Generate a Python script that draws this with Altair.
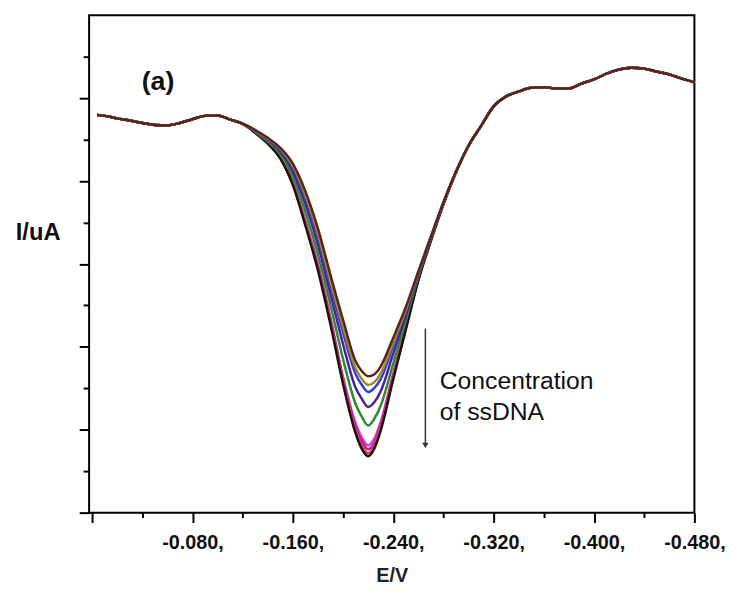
import altair as alt
import pandas as pd

# shared flanks (all curves coincide here)
E_left = [-0.004, -0.01, -0.02, -0.03, -0.04, -0.05, -0.06, -0.07, -0.08, -0.09, -0.10, -0.11, -0.12]
I_left = [9.59, 9.57, 9.51, 9.46, 9.40, 9.35, 9.34, 9.40, 9.49, 9.57, 9.58, 9.48, 9.38]

E_peak = [-0.13, -0.14, -0.15, -0.16, -0.17, -0.18, -0.19, -0.20, -0.21, -0.215,
          -0.22, -0.225, -0.23, -0.24, -0.25, -0.26, -0.27, -0.28, -0.29]

E_right = [-0.30, -0.31, -0.32, -0.33, -0.34, -0.35, -0.36, -0.37, -0.38, -0.39,
           -0.40, -0.41, -0.42, -0.43, -0.44, -0.45, -0.46, -0.47, -0.48]
I_right = [8.85, 9.33, 9.80, 10.04, 10.16, 10.25, 10.26, 10.23, 10.23, 10.35,
           10.45, 10.59, 10.69, 10.73, 10.71, 10.64, 10.57, 10.47, 10.38]

curve_names = ["c6", "c7", "c8", "c9", "c5", "c4", "c3", "c2", "c1"]
curve_colors = ["#d040d8", "#b020b0", "#e04040", "#201010", "#2f8a2a",
                "#4b1f9e", "#2f3fd0", "#9c8a2a", "#5a2418"]

I_peak = {
    "c1": [9.23, 9.04, 8.80, 8.42, 7.75, 6.85, 5.73, 4.65, 3.65, 3.41, 3.29, 3.34, 3.53, 4.22, 4.96, 5.82, 6.66, 7.49, 8.23],
    "c2": [9.23, 9.02, 8.78, 8.37, 7.66, 6.73, 5.58, 4.48, 3.48, 3.22, 3.08, 3.15, 3.36, 4.10, 4.89, 5.80, 6.66, 7.49, 8.23],
    "c3": [9.21, 9.02, 8.75, 8.33, 7.59, 6.66, 5.49, 4.34, 3.34, 3.08, 2.91, 3.01, 3.22, 4.03, 4.87, 5.77, 6.63, 7.47, 8.23],
    "c4": [9.21, 8.99, 8.71, 8.23, 7.44, 6.46, 5.27, 4.06, 3.01, 2.74, 2.55, 2.67, 2.93, 3.84, 4.75, 5.75, 6.61, 7.47, 8.21],
    "c5": [9.18, 8.95, 8.64, 8.11, 7.25, 6.23, 5.01, 3.70, 2.62, 2.31, 2.10, 2.27, 2.58, 3.60, 4.63, 5.70, 6.61, 7.47, 8.21],
    "c6": [9.16, 8.92, 8.59, 7.97, 7.04, 5.99, 4.70, 3.27, 2.15, 1.81, 1.62, 1.79, 2.19, 3.36, 4.48, 5.63, 6.58, 7.44, 8.21],
    "c7": [9.16, 8.92, 8.56, 7.94, 6.99, 5.94, 4.65, 3.22, 2.08, 1.72, 1.53, 1.69, 2.12, 3.32, 4.46, 5.63, 6.56, 7.44, 8.21],
    "c8": [9.16, 8.90, 8.56, 7.92, 6.97, 5.89, 4.58, 3.17, 1.98, 1.62, 1.43, 1.62, 2.05, 3.27, 4.44, 5.61, 6.56, 7.44, 8.21],
    "c9": [9.16, 8.90, 8.54, 7.90, 6.92, 5.84, 4.53, 3.10, 1.91, 1.53, 1.36, 1.55, 1.98, 3.22, 4.41, 5.61, 6.56, 7.44, 8.21],
}

x_ticks = [0.0, -0.04, -0.08, -0.12, -0.16, -0.20, -0.24, -0.28, -0.32, -0.36, -0.40, -0.44, -0.48]
y_ticks = list(range(0, 12))

# annotation positions (data units)
arrow_E = [-0.2656]
arrow_top = [4.44]
arrow_bottom = [1.62]
ann_text = ["Concentration", "of ssDNA"]
ann_E = [-0.2770, -0.2770]
ann_I = [3.17, 2.43]
label_a = ["(a)"]
label_a_E = [-0.0525]
label_a_I = [10.38]

rows = []
for k, name in enumerate(curve_names):
    Es = E_left + E_peak + E_right
    Is = I_left + I_peak[name] + I_right
    for j, (e, i) in enumerate(zip(Es, Is)):
        rows.append({"curve": name, "order": k, "idx": j, "E": e, "I": i})
df = pd.DataFrame(rows)

x_scale = alt.Scale(domain=[-0.48, 0.0024], reverse=True, nice=False, zero=False)
y_scale = alt.Scale(domain=[0, 12], nice=False, zero=False)

x_axis = alt.Axis(
    values=x_ticks,
    title="E/V",
    titleFont="Liberation Sans", titleFontSize=20, titleFontWeight="bold",
    titleColor="#222", titlePadding=14,
    labelFont="Liberation Sans", labelFontSize=20, labelFontWeight="bold",
    labelColor="#111", labelPadding=10, labelFlush=False, labelOverlap=False,
    labelExpr="(datum.value == 0 || abs(datum.value*12.5 - round(datum.value*12.5)) > 0.01) ? '' : '-' + format(abs(datum.value), '.3f') + ','",
    tickColor="black", tickWidth=2,
    tickSize={"condition": {"test": "abs(datum.value*12.5 - round(datum.value*12.5)) < 0.01", "value": 10}, "value": 5},
    domain=False, grid=False,
)
y_axis = alt.Axis(
    values=y_ticks,
    title="I/uA", titleAngle=0, titleX=-52, titleY=220,
    titleAlign="center", titleBaseline="middle",
    titleFont="Liberation Sans", titleFontSize=24, titleFontWeight="bold", titleColor="#111",
    labels=False,
    tickColor="black", tickWidth=2,
    tickSize={"condition": {"test": "datum.value % 2 == 0", "value": 10}, "value": 6},
    domain=False, grid=False,
)

lines = alt.Chart(df).mark_line(strokeWidth=2.5, interpolate="monotone").encode(
    x=alt.X("E:Q", scale=x_scale, axis=x_axis),
    y=alt.Y("I:Q", scale=y_scale, axis=y_axis),
    color=alt.Color("curve:N", scale=alt.Scale(domain=curve_names, range=curve_colors), legend=None),
    order="idx:Q",
)

arrow_df = pd.DataFrame({"E": arrow_E, "top": arrow_top, "bottom": arrow_bottom})
arrow_line = alt.Chart(arrow_df).mark_rule(color="#333", strokeWidth=1.5).encode(
    x="E:Q", y="top:Q", y2="bottom:Q"
)
arrow_head = alt.Chart(arrow_df).mark_point(
    shape="triangle-down", filled=True, color="#333", size=40, opacity=1
).encode(x="E:Q", y="bottom:Q")

ann_df = pd.DataFrame({"t": ann_text, "E": ann_E, "I": ann_I})
ann = alt.Chart(ann_df).mark_text(
    align="left", baseline="middle", font="Liberation Sans", fontSize=25, color="#111"
).encode(x="E:Q", y="I:Q", text="t:N")

a_df = pd.DataFrame({"t": label_a, "E": label_a_E, "I": label_a_I})
a_text = alt.Chart(a_df).mark_text(
    align="center", baseline="middle", font="Liberation Sans", fontSize=27,
    fontWeight="bold", color="#111"
).encode(x="E:Q", y="I:Q", text="t:N")

chart = alt.layer(lines, arrow_line, arrow_head, ann, a_text).properties(
    width=612, height=503,
    padding={"left": 82, "top": 4, "right": 37, "bottom": 75},
    autosize=alt.AutoSizeParams(type="none"),
    background="white",
).configure_view(stroke="black", strokeWidth=2)

chart.save("out.html", embed_options={"renderer": "svg", "actions": False})
